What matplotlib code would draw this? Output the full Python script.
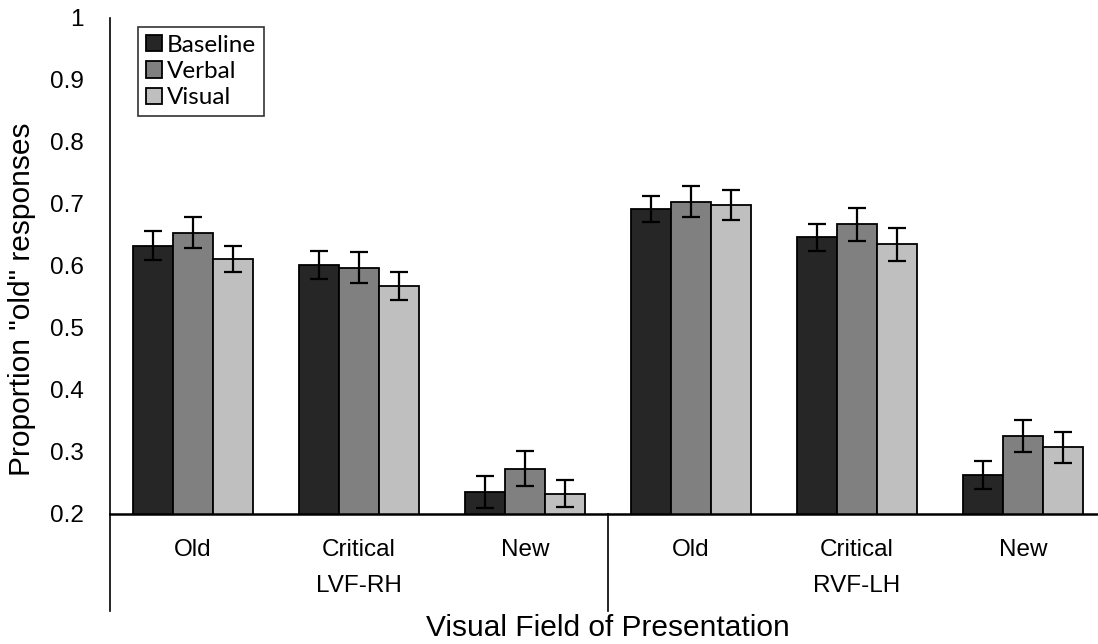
import matplotlib
matplotlib.use("Agg")
import matplotlib.pyplot as plt
import matplotlib.transforms as mtransforms
import numpy as np

conditions = ["Old", "Critical", "New", "Old", "Critical", "New"]
fields = ["LVF-RH", "RVF-LH"]
series_names = ["Baseline", "Verbal", "Visual"]
baseline = [0.633, 0.602, 0.236, 0.692, 0.646, 0.263]
verbal = [0.654, 0.597, 0.273, 0.704, 0.667, 0.326]
visual = [0.612, 0.568, 0.233, 0.699, 0.635, 0.308]
baseline_err = [0.023, 0.023, 0.026, 0.021, 0.021, 0.022]
verbal_err = [0.025, 0.025, 0.028, 0.025, 0.026, 0.026]
visual_err = [0.021, 0.023, 0.022, 0.024, 0.027, 0.025]
yticks = [0.2, 0.3, 0.4, 0.5, 0.6, 0.7, 0.8, 0.9, 1.0]
ytick_labels = ["0.2", "0.3", "0.4", "0.5", "0.6", "0.7", "0.8", "0.9", "1"]

colors = ["#262626", "#808080", "#bfbfbf"]

plt.rcParams['font.family'] = ['Liberation Sans', 'DejaVu Sans']

W, H = 1098, 644
fig = plt.figure(figsize=(W / 100, H / 100), dpi=100)
ax = fig.add_axes([110 / W, 1 - 514 / H, 996 / W, (514 - 18) / H])

x = np.arange(len(conditions))
width = 0.241
values = [baseline, verbal, visual]
errors = [baseline_err, verbal_err, visual_err]
for i, (vals, errs, name, c) in enumerate(zip(values, errors, series_names, colors)):
    ax.bar(x + (i - 1) * width, vals, width, color=c, edgecolor="black",
           linewidth=1.3, label=name, zorder=2)
    ax.errorbar(x + (i - 1) * width, vals, yerr=errs, fmt="none", ecolor="black",
                elinewidth=1.6, capsize=6.5, capthick=1.6, zorder=3)

ax.set_xlim(-0.5, len(conditions) - 0.5)
ax.set_ylim(0.2, 1.0)
ax.set_yticks(yticks)
ax.set_yticklabels(ytick_labels)
ax.tick_params(axis="y", length=0, pad=19, labelsize=17.5)
ax.set_xticks(x)
ax.set_xticklabels(conditions)
ax.tick_params(axis="x", length=0, pad=18, labelsize=17.5)

for s in ["top", "right"]:
    ax.spines[s].set_visible(False)
ax.spines["left"].set_linewidth(1.2)
ax.spines["bottom"].set_linewidth(1.8)

trans = mtransforms.blended_transform_factory(ax.transData, ax.transAxes)
ext = -(611 - 514) / 496
for xb in [-0.5, 2.5, 5.5]:
    ax.plot([xb, xb], [0, ext], transform=trans, color="black", lw=1.2, clip_on=False)

for j, f in enumerate(fields):
    ax.text(1 + 3 * j, -(586 - 514) / 496, f, transform=trans, ha="center",
            va="center", fontsize=17.5)

ax.set_xlabel("Visual Field of Presentation", fontsize=21.5)
ax.xaxis.set_label_coords(0.5, -(614 - 514) / 496)
ax.set_ylabel('Proportion "old" responses', fontsize=21.5, va="center")
ax.yaxis.set_label_coords((22 - 110) / 996, (514 - 299) / 496)

leg = ax.legend(loc="upper left", bbox_to_anchor=(28 / 996, 1 - 9 / 496),
                frameon=True, fancybox=False, edgecolor="black",
                prop={"family": "Lato", "size": 17.5}, handlelength=0.65,
                handleheight=0.65, handletextpad=0.22, labelspacing=0.22,
                borderpad=0.32, borderaxespad=0)
leg.get_frame().set_linewidth(1.2)

fig.savefig("out.png", dpi=100)
